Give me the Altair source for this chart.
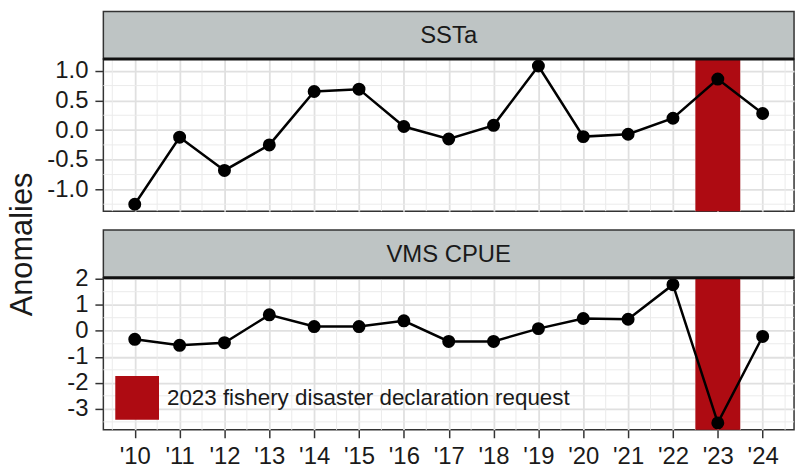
import json
import math

import altair as alt
import pandas as pd

# ---- data -------------------------------------------------------------
years = list(range(2010, 2025))
year_labels = ["'10", "'11", "'12", "'13", "'14", "'15", "'16", "'17",
               "'18", "'19", "'20", "'21", "'22", "'23", "'24"]
ssta = [-1.25, -0.12, -0.68, -0.25, 0.65, 0.69, 0.06, -0.15,
        0.08, 1.08, -0.11, -0.07, 0.20, 0.86, 0.28]
vms_cpue = [-0.33, -0.56, -0.46, 0.61, 0.16, 0.16, 0.38, -0.41,
            -0.41, 0.08, 0.47, 0.44, 1.77, -3.54, -0.22]
panel_names = ["SSTa", "VMS CPUE"]
disaster_year = 2023
disaster_label = "2023 fishery disaster declaration request"

# ---- styling ----------------------------------------------------------
FONT = "Liberation Sans"
INK = "#1a1a1a"
RED = "#AE0B12"
STRIP_FILL = "#BEC4C4"
BORDER = "#333333"
GRID_MAJOR = "#E0E0E0"
GRID_MINOR = "#EBEBEB"
W, H, STRIP_H, GAP = 695, 153, 48, 19


def expanded(lo, hi, frac=0.05):
    pad = (hi - lo) * frac
    return [lo - pad, hi + pad]


def major_ticks(step, dom):
    k0 = math.ceil(dom[0] / step - 1e-9)
    k1 = math.floor(dom[1] / step + 1e-9)
    return [round(k * step, 6) for k in range(k0, k1 + 1)]


def minor_ticks(step, dom):
    k0 = math.floor(dom[0] / step) - 1
    k1 = math.ceil(dom[1] / step) + 1
    out = []
    for k in range(k0, k1):
        v = (k + 0.5) * step
        if dom[0] < v < dom[1]:
            out.append(round(v, 6))
    return out


x_domain = expanded(years[0], years[-1])
year_label_expr = json.dumps(year_labels) + f"[datum.value - {years[0]}]"

# legend sits inside the lower panel (offsets from the upper plot area's corner)
legend = alt.Legend(
    orient="none", legendX=12, legendY=319, title=None,
    symbolType="square", symbolSize=1936, symbolStrokeWidth=0,
    symbolOpacity=1, labelFont=FONT, labelFontSize=22.5, labelColor=INK,
    labelOffset=8, padding=0, labelLimit=600,
)


def strip_layers(name):
    """Facet-style header drawn just above the plot area."""
    df = pd.DataFrame({"panel": [name]})
    box = alt.Chart(df).mark_rect(
        fill=STRIP_FILL, stroke=BORDER, strokeWidth=1.5
    ).encode(x=alt.value(0), x2=alt.value(W), y=alt.value(-STRIP_H), y2=alt.value(0))
    label = alt.Chart(df).mark_text(
        font=FONT, fontSize=24, color=INK, align="center", baseline="alphabetic"
    ).encode(text="panel:N", x=alt.value(W / 2), y=alt.value(-16))
    edge = alt.Chart(df).mark_rule(color="#111111", strokeWidth=3).encode(
        x=alt.value(0), x2=alt.value(W), y=alt.value(0)
    )
    return [box, label, edge]


def panel(name, values, step, show_x, label_fmt, title=None):
    y_domain = expanded(min(values), max(values))
    xs = alt.Scale(domain=x_domain, nice=False, zero=False)
    ys = alt.Scale(domain=y_domain, nice=False, zero=False)

    grid = dict(grid=True, gridColor=GRID_MAJOR, gridWidth=1.8, domain=False)
    if show_x:
        x_axis = alt.Axis(
            values=years, labelExpr=year_label_expr, title=None,
            ticks=True, tickSize=8, tickWidth=1.5, tickColor=BORDER,
            labelFont=FONT, labelFontSize=24, labelColor=INK, labelPadding=7,
            **grid,
        )
    else:
        x_axis = alt.Axis(values=years, title=None, labels=False, ticks=False, **grid)

    y_kwargs = dict(
        values=major_ticks(step, y_domain),
        labelExpr=f"replace(format(datum.value, '{label_fmt}'), '\u2212', '-')",
        ticks=True, tickSize=8.5, tickWidth=1.5, tickColor=BORDER,
        labelFont=FONT, labelFontSize=24, labelColor=INK, labelPadding=7,
        **grid,
    )
    if title:
        y_kwargs.update(
            title=title, titleFont=FONT, titleFontSize=31, titleFontWeight="normal",
            titleColor=INK, titleAngle=270, titleAlign="center",
            titleBaseline="alphabetic", titleX=-72.5, titleY=186,
        )
    else:
        y_kwargs.update(title=None)
    y_axis = alt.Axis(**y_kwargs)

    X = alt.X("year:Q", scale=xs, axis=x_axis)
    Y = alt.Y("value:Q", scale=ys, axis=y_axis)

    df = pd.DataFrame({"year": years, "value": values})
    minor_x = alt.Chart(pd.DataFrame({"year": minor_ticks(1, x_domain)})).mark_rule(
        color=GRID_MINOR, strokeWidth=1
    ).encode(x=X)
    minor_y = alt.Chart(pd.DataFrame({"value": minor_ticks(step, y_domain)})).mark_rule(
        color=GRID_MINOR, strokeWidth=1
    ).encode(y=Y)
    band_df = pd.DataFrame({
        "year": [disaster_year - 0.5],
        "year_end": [disaster_year + 0.5],
        "label": [disaster_label],
    })
    band = alt.Chart(band_df).mark_rect(opacity=1).encode(
        x=X, x2="year_end", y=alt.value(0), y2=alt.value(H),
        color=alt.Color("label:N", scale=alt.Scale(domain=[disaster_label], range=[RED]),
                        legend=legend),
    )
    line = alt.Chart(df).mark_line(color="black", strokeWidth=2.5).encode(x=X, y=Y)
    pts = alt.Chart(df).mark_circle(color="black", size=170, opacity=1).encode(x=X, y=Y)

    return alt.layer(minor_x, minor_y, band, line, pts, *strip_layers(name)).properties(
        width=W, height=H,
        view=alt.ViewBackground(fill="white", stroke=BORDER, strokeWidth=1.5),
    )


chart = alt.vconcat(
    panel(panel_names[0], ssta, 0.5, False, ".1f", "Anomalies"),
    panel(panel_names[1], vms_cpue, 1, True, "d"),
    spacing=GAP + STRIP_H, bounds="flush",
).properties(
    padding={"left": 5, "top": 8, "right": 5, "bottom": 0},
    background="white",
)

chart.save("out.html", embed_options={"renderer": "svg", "actions": False})
